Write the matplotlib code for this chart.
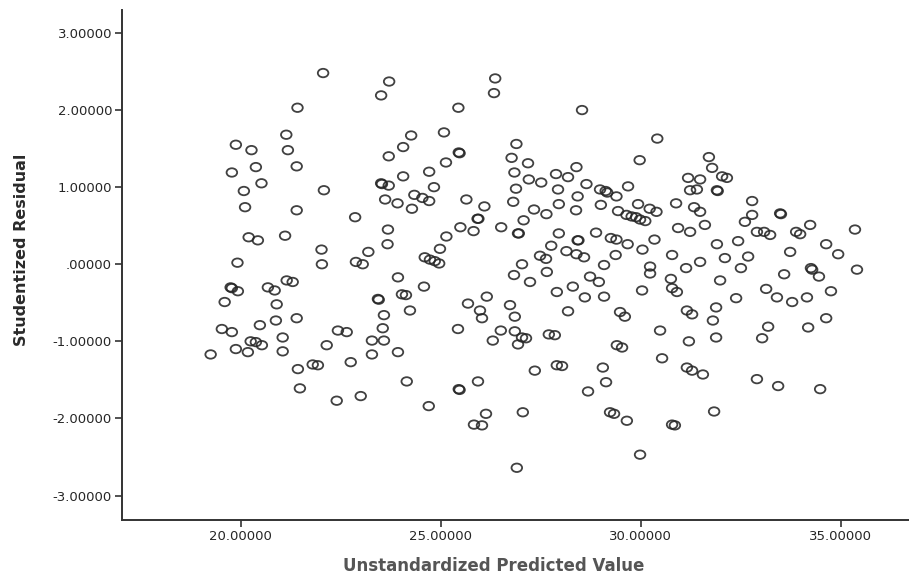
import matplotlib
matplotlib.use("Agg")
import matplotlib.pyplot as plt
import numpy as np
from matplotlib.path import Path
from matplotlib.ticker import FuncFormatter

# Unstandardized predicted values (x) and studentized residuals (y)
x_upper_left = [22.06, 23.71, 23.51, 21.42, 21.14, 24.26, 19.88, 20.27, 21.18, 24.06,
                23.70, 20.38, 21.40, 19.78, 24.06, 20.52, 23.51, 23.53, 23.70, 20.08,
                22.08, 24.34, 23.61, 23.92, 24.28, 20.11, 21.40, 22.86, 23.68, 20.20,
                20.43, 21.11, 23.67, 23.19, 22.02, 19.92, 22.03, 22.88, 23.05]
y_upper_left = [2.48, 2.37, 2.19, 2.03, 1.68, 1.67, 1.55, 1.48, 1.48, 1.52,
                1.40, 1.26, 1.27, 1.19, 1.14, 1.05, 1.05, 1.04, 1.02, 0.95,
                0.96, 0.90, 0.84, 0.79, 0.72, 0.74, 0.70, 0.61, 0.45, 0.35,
                0.31, 0.37, 0.26, 0.16, 0.19, 0.02, 0.00, 0.03, 0.00]

x_upper_mid = [26.36, 26.33, 25.44, 28.53, 30.41, 25.08, 26.89, 25.45, 25.47, 26.77,
               29.97, 25.13, 27.18, 24.71, 26.84, 28.39, 27.88, 28.18, 27.20, 27.51,
               28.64, 29.68, 24.83, 26.88, 27.93, 28.98, 29.12, 29.16, 29.39, 28.42,
               24.54, 24.71, 25.64, 26.81, 27.95, 29.00, 29.93, 26.09, 30.22, 30.39,
               27.33, 28.38, 29.43, 27.64, 29.64, 29.77, 29.88, 29.98, 30.11, 25.92,
               25.94, 27.07, 25.49, 25.82, 26.51, 26.93, 26.95, 27.95, 28.88, 25.14,
               28.42, 28.44, 29.25, 29.39, 30.34, 29.67, 27.76, 24.98, 30.04, 28.14,
               28.39, 28.58, 27.48, 27.63, 29.37, 24.60, 24.73, 24.85, 24.96, 27.03,
               29.08, 30.23]
y_upper_mid = [2.41, 2.22, 2.03, 2.00, 1.63, 1.71, 1.56, 1.45, 1.44, 1.38,
               1.35, 1.32, 1.31, 1.20, 1.19, 1.26, 1.17, 1.13, 1.10, 1.06,
               1.04, 1.01, 1.00, 0.98, 0.97, 0.97, 0.95, 0.93, 0.88, 0.88,
               0.86, 0.82, 0.84, 0.81, 0.78, 0.77, 0.78, 0.75, 0.72, 0.68,
               0.71, 0.70, 0.69, 0.65, 0.64, 0.62, 0.61, 0.58, 0.56, 0.59,
               0.59, 0.57, 0.48, 0.43, 0.48, 0.40, 0.40, 0.40, 0.41, 0.36,
               0.31, 0.31, 0.34, 0.32, 0.32, 0.26, 0.24, 0.20, 0.19, 0.17,
               0.13, 0.09, 0.11, 0.07, 0.12, 0.09, 0.06, 0.04, 0.01, 0.00,
               -0.01, -0.03]

x_upper_right = [31.70, 31.78, 31.18, 31.48, 32.03, 32.15, 31.23, 31.40, 31.90, 31.92,
                 30.88, 31.33, 31.48, 32.78, 32.78, 33.48, 33.50, 32.60, 32.90, 33.08,
                 33.23, 34.23, 33.88, 33.98, 32.43, 31.90, 31.23, 32.68, 34.63, 35.35,
                 34.93, 30.78, 31.48, 32.10, 33.73, 30.93, 31.60]
y_upper_right = [1.39, 1.25, 1.12, 1.10, 1.14, 1.12, 0.96, 0.97, 0.96, 0.95,
                 0.79, 0.74, 0.68, 0.82, 0.64, 0.66, 0.65, 0.55, 0.42, 0.42,
                 0.38, 0.51, 0.42, 0.39, 0.30, 0.26, 0.42, 0.10, 0.26, 0.45,
                 0.13, 0.12, 0.03, 0.08, 0.16, 0.47, 0.51]

x_lower_left = [19.75, 19.78, 19.93, 19.60, 19.53, 19.78, 19.25, 19.88, 20.18, 20.25,
                20.38, 20.53, 20.68, 20.85, 21.15, 21.30, 20.90, 20.88, 20.48, 21.05,
                21.05, 21.40, 21.43, 21.48, 21.80, 21.93, 22.15, 22.43, 22.65, 22.75,
                22.40, 23.00, 23.28, 23.28, 23.43, 23.45, 23.58, 23.55, 23.58, 23.93,
                24.03, 24.13, 23.93, 24.15, 24.23, 24.58, 24.70]
y_lower_left = [-0.30, -0.31, -0.35, -0.49, -0.84, -0.88, -1.17, -1.10, -1.14, -1.00,
                -1.01, -1.05, -0.30, -0.34, -0.21, -0.23, -0.52, -0.73, -0.79, -0.95,
                -1.13, -0.70, -1.36, -1.61, -1.30, -1.31, -1.05, -0.86, -0.88, -1.27,
                -1.77, -1.71, -0.99, -1.17, -0.45, -0.46, -0.66, -0.83, -0.99, -0.17,
                -0.39, -0.40, -1.14, -1.52, -0.60, -0.29, -1.84]

x_lower_mid = [25.43, 25.45, 25.47, 25.68, 25.98, 26.03, 25.83, 26.03, 26.13, 25.93,
               26.15, 26.50, 26.30, 26.83, 26.73, 26.85, 26.85, 26.93, 27.03, 27.13,
               27.05, 26.90, 27.23, 27.35, 27.70, 27.85, 27.90, 27.90, 28.03, 28.18,
               28.30, 28.60, 28.68, 29.05, 29.13, 29.23, 29.33, 29.40, 29.53, 29.48,
               29.60, 29.65, 29.98, 30.03, 30.23, 30.48, 30.53, 28.95, 29.08, 28.73,
               27.65]
y_lower_mid = [-0.84, -1.62, -1.63, -0.51, -0.60, -0.70, -2.08, -2.09, -1.94, -1.52,
               -0.42, -0.86, -0.99, -0.14, -0.53, -0.68, -0.87, -1.04, -0.95, -0.96,
               -1.92, -2.64, -0.23, -1.38, -0.91, -0.92, -0.36, -1.31, -1.32, -0.61,
               -0.29, -0.43, -1.65, -1.34, -1.53, -1.92, -1.94, -1.05, -1.08, -0.62,
               -0.68, -2.03, -2.47, -0.34, -0.12, -0.86, -1.22, -0.23, -0.42, -0.16,
               -0.10]

x_lower_right = [30.75, 30.78, 30.90, 31.13, 31.15, 31.28, 31.20, 31.15, 31.28, 30.78,
                 30.85, 31.55, 31.88, 31.80, 31.88, 31.83, 32.38, 32.50, 32.90, 33.03,
                 33.18, 33.40, 33.43, 33.58, 33.78, 34.18, 34.15, 34.25, 34.28, 34.48,
                 34.63, 34.75, 34.45, 35.40, 33.13, 31.98]
y_lower_right = [-0.19, -0.31, -0.36, -0.05, -0.60, -0.65, -1.00, -1.34, -1.38, -2.08,
                 -2.09, -1.43, -0.56, -0.73, -0.95, -1.91, -0.44, -0.05, -1.49, -0.96,
                 -0.81, -0.43, -1.58, -0.13, -0.49, -0.82, -0.43, -0.05, -0.07, -1.62,
                 -0.70, -0.35, -0.16, -0.07, -0.32, -0.21]

x_vals = x_upper_left + x_upper_mid + x_upper_right + x_lower_left + x_lower_mid + x_lower_right
y_vals = y_upper_left + y_upper_mid + y_upper_right + y_lower_left + y_lower_mid + y_lower_right

x_ticks = [20, 25, 30, 35]
y_ticks = [-3, -2, -1, 0, 1, 2, 3]
x_label = "Unstandardized Predicted Value"
y_label = "Studentized Residual"

plt.rcParams['font.family'] = ['DejaVu Sans']

# slightly flattened open-circle marker
circ = Path.unit_circle()
ellipse_marker = Path(circ.vertices * np.array([1.0, 0.8]), circ.codes)

fig = plt.figure(figsize=(9.09, 5.78), dpi=100)
ax = fig.add_axes([0.134, 0.100, 0.866, 0.883])

ax.scatter(x_vals, y_vals, s=58, marker=ellipse_marker, facecolors='none',
           edgecolors='#262626', linewidths=1.3, alpha=0.88)

ax.set_xlim(17.03, 36.7)
ax.set_ylim(-3.32, 3.30)
ax.set_xticks(x_ticks)
ax.set_yticks(y_ticks)

def fmt(v, pos):
    s = f"{v:.5f}"
    if s.startswith("0."):
        s = s[1:]
    return s

ax.xaxis.set_major_formatter(FuncFormatter(fmt))
ax.yaxis.set_major_formatter(FuncFormatter(fmt))

for side in ['top', 'right']:
    ax.spines[side].set_visible(False)
for side in ['left', 'bottom']:
    ax.spines[side].set_color('#333333')
    ax.spines[side].set_linewidth(1.4)

ax.tick_params(axis='both', direction='out', length=5, width=1.2, color='#333333',
               labelsize=9.5, labelcolor='#262626', pad=2)

ax.set_xlabel(x_label, fontsize=12, fontweight='bold', color='#555555')
ax.set_ylabel(y_label, fontsize=11.5, fontweight='bold', color='#2a2a2a')
ax.xaxis.set_label_coords(0.473, -0.072)
ax.yaxis.set_label_coords(-0.118, 0.53)

fig.savefig("out.png", dpi=100)
